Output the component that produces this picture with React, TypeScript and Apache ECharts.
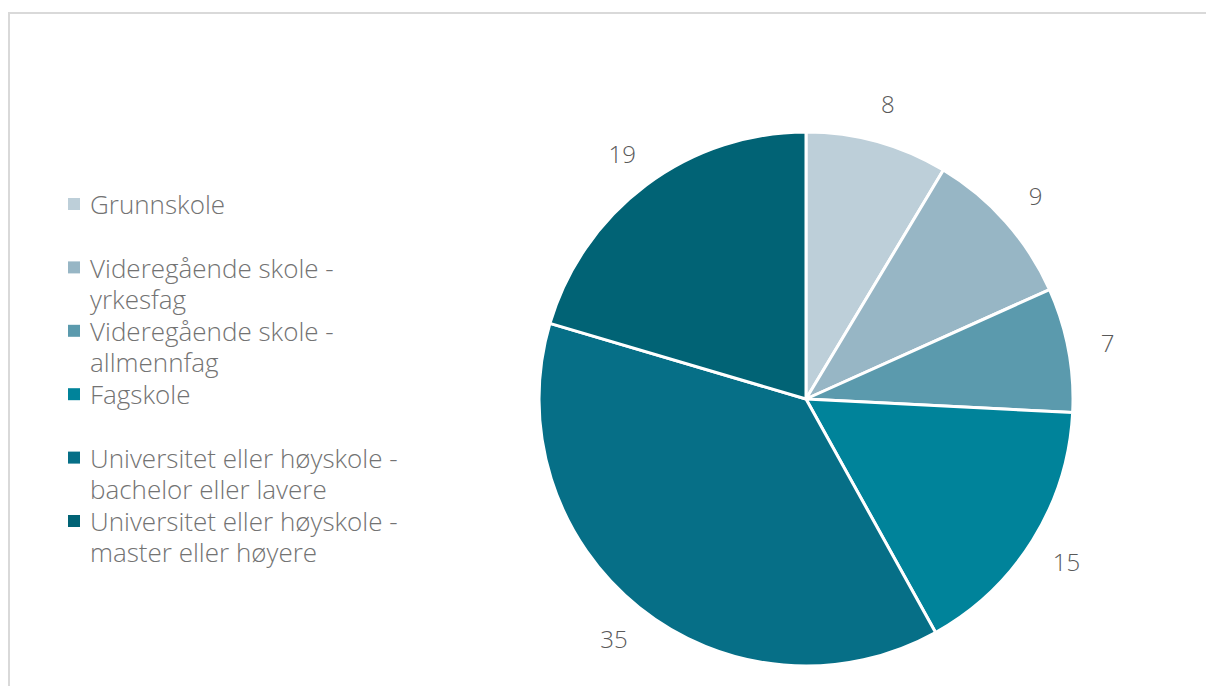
import React, { useEffect, useRef } from "react";
import * as echarts from "echarts";

const categories = [
  "Grunnskole",
  "Videregående skole -\nyrkesfag",
  "Videregående skole -\nallmennfag",
  "Fagskole",
  "Universitet eller høyskole -\nbachelor eller lavere",
  "Universitet eller høyskole -\nmaster eller høyere",
];
const values = [8, 9, 7, 15, 35, 19];
const colors = ["#BDCFD9", "#97B6C5", "#5B9AAD", "#00839A", "#066F87", "#016375"];

const FONT = "'Open Sans', 'DejaVu Sans', sans-serif";

export default function App() {
  const ref = useRef<HTMLDivElement>(null);
  useEffect(() => {
    if (!ref.current) return;
    const chart = echarts.init(ref.current, undefined, { renderer: "svg" });
    const data = categories.map((name, i) => ({
      name,
      value: values[i],
      itemStyle: { color: colors[i] },
    }));
    const legendGraphics: any[] = [];
    categories.forEach((name, i) => {
      const cy = 196 + i * 63.4;
      legendGraphics.push({
        type: "rect",
        shape: { x: 60, y: cy - 6, width: 12, height: 12 },
        style: { fill: colors[i] },
        silent: true,
      });
      legendGraphics.push({
        type: "text",
        x: 82,
        y: cy - 15.6,
        style: {
          text: name,
          fill: "#737373",
          fontFamily: FONT,
          fontSize: 26,
          fontWeight: 300,
          lineHeight: 31.4,
          verticalAlign: "top",
          align: "left",
        },
        silent: true,
      });
    });
    chart.setOption({
      animation: false,
      backgroundColor: "#ffffff",
      graphic: [
        {
          type: "rect",
          shape: { x: 1, y: 5, width: 1400, height: 1000 },
          style: { fill: "none", stroke: "#D9D9D9", lineWidth: 2 },
          silent: true,
        },
        ...legendGraphics,
      ],
      series: [
        {
          type: "pie",
          center: [798, 391],
          radius: [0, 267],
          startAngle: 90,
          clockwise: true,
          data,
          label: { show: false },
          labelLine: { show: false },
          itemStyle: { borderColor: "#ffffff", borderWidth: 3 },
          emphasis: { disabled: true },
          silent: true,
        },
        {
          type: "pie",
          center: [798, 391],
          radius: [304, 304],
          startAngle: 90,
          clockwise: true,
          data: data.map((d) => ({ ...d, itemStyle: { color: "transparent" } })),
          label: {
            show: true,
            position: "inside",
            formatter: "{c}",
            color: "#595959",
            fontFamily: FONT,
            fontSize: 24,
            fontWeight: 300,
          },
          labelLine: { show: false },
          itemStyle: { color: "transparent", borderWidth: 0 },
          emphasis: { disabled: true },
          silent: true,
        },
      ],
    });
    return () => chart.dispose();
  }, []);
  return <div ref={ref} style={{ width: 1206, height: 678 }} />;
}
